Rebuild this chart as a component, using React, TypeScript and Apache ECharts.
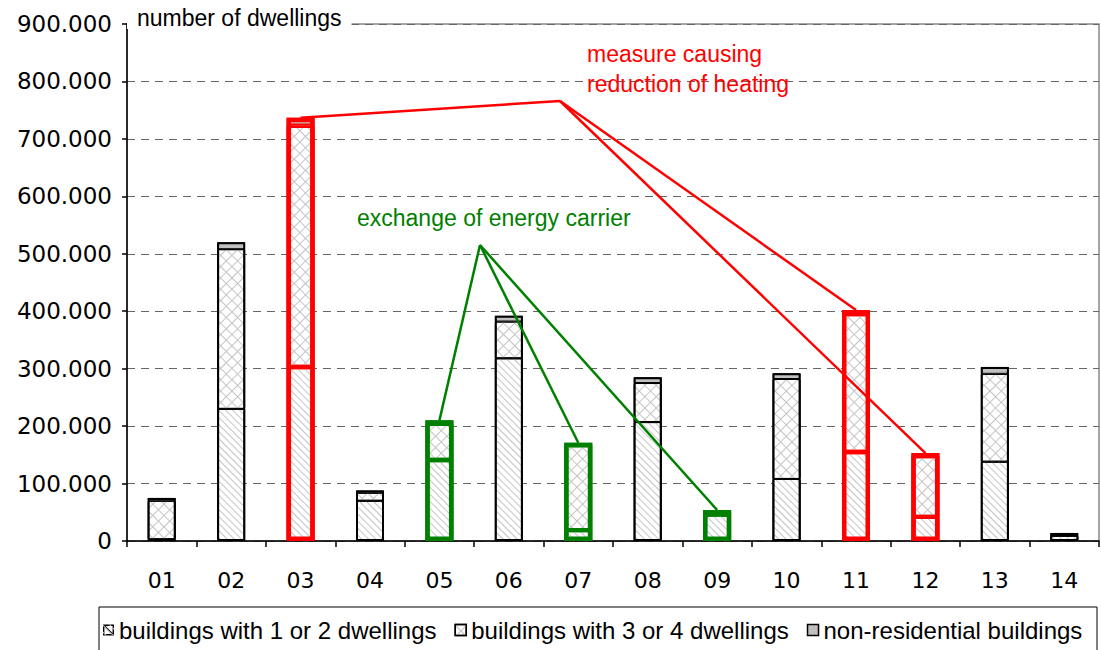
import React, { useEffect, useRef } from 'react';
import * as echarts from 'echarts';

// ---- data ----
const categories = ['01', '02', '03', '04', '05', '06', '07', '08', '09', '10', '11', '12', '13', '14'];
const oneOrTwo = [3000, 230000, 303000, 70000, 141000, 318000, 19000, 207000, 46000, 108000, 155000, 42000, 138000, 9000];
const threeOrFour = [67000, 278000, 420000, 14000, 63000, 64000, 148000, 68000, 4000, 174000, 240000, 106000, 153000, 2000];
const nonResidential = [5000, 12000, 14000, 4000, 6000, 10000, 4000, 10000, 4000, 10000, 7000, 5000, 12000, 3000];
const seriesNames = ['buildings with 1 or 2 dwellings', 'buildings with 3 or 4 dwellings', 'non-residential buildings'];
const redCats = ['03', '11', '12'];
const greenCats = ['05', '07', '09'];
const redLabel = 'measure causing\nreduction of heating';
const greenLabel = 'exchange of energy carrier';
const titleText = 'number of dwellings';

const RED = '#ff0000';
const GREEN = '#008000';
const HATCH = '#c4c4c4';

const diagDecal = {
  symbol: 'rect',
  symbolSize: 1,
  dashArrayX: [1, 0],
  dashArrayY: [1, 4],
  rotation: Math.PI / 4,
  color: HATCH,
};
const crossDecal = {
  symbol: 'rect',
  symbolSize: 1,
  dashArrayX: [[8, 0], [1, 7]],
  dashArrayY: [1, 0, 7, 0],
  rotation: Math.PI / 4,
  color: HATCH,
};

const hatchIcon =
  'path://M0 0H11V11H0Z M1.4 1.4V9.6H9.6V1.4Z M1.4 1.4L2.6 1.4L9.6 8.4L9.6 9.6L8.4 9.6L1.4 2.6Z';

function highlightColor(c: string) {
  return redCats.includes(c) ? RED : greenCats.includes(c) ? GREEN : null;
}

function withHighlights(values: number[], w: number) {
  return values.map((v, i) => {
    const hl = highlightColor(categories[i]);
    return hl ? { value: v, itemStyle: { borderColor: hl, borderWidth: w } } : v;
  });
}

const totals = categories.map((_, i) => oneOrTwo[i] + threeOrFour[i] + nonResidential[i]);

export default function App() {
  const ref = useRef<HTMLDivElement>(null);
  useEffect(() => {
    if (!ref.current) return;
    const chart = echarts.init(ref.current, undefined, { renderer: 'svg' });
    const axisFont = 'DejaVu Sans';
    const textFont = 'Liberation Sans';
    const segBorder = 1;
    const hlSegBorder = 2.2;
    chart.setOption({
      animation: false,
      backgroundColor: '#fff',
      grid: { left: 127, right: 2, top: 24, bottom: 109, show: true, borderColor: '#888', borderWidth: 1.5, backgroundColor: 'transparent' },
      legend: {
        left: 103,
        top: 618,
        padding: 0,
        itemWidth: 11,
        itemHeight: 11,
        itemGap: 18,
        data: [
          { name: seriesNames[0], icon: hatchIcon, itemStyle: { color: '#000', borderWidth: 0 } },
          { name: seriesNames[1], icon: 'rect' },
          { name: seriesNames[2], icon: 'rect' },
        ],
        itemStyle: { borderColor: '#000', borderWidth: 1.5 },
        textStyle: { fontSize: 24, fontFamily: textFont, color: '#000' },
      },
      xAxis: {
        type: 'category',
        data: categories,
        axisLine: { lineStyle: { color: '#000', width: 1.5 } },
        axisTick: { show: true, length: 6, lineStyle: { color: '#000', width: 1.5 } },
        axisLabel: { color: '#000', fontSize: 22, fontFamily: axisFont, margin: 28 },
        splitLine: { show: false },
      },
      yAxis: {
        type: 'value',
        min: 0,
        max: 900000,
        interval: 100000,
        axisLine: { show: true, lineStyle: { color: '#000', width: 1.5 } },
        axisTick: { show: true, length: 5, lineStyle: { color: '#000', width: 1.5 } },
        axisLabel: {
          color: '#000',
          fontSize: 23,
          fontFamily: axisFont,
          margin: 15,
          formatter: (v: number) => (v === 0 ? '0' : `${Math.round(v / 1000)}.000`),
        },
        splitLine: { show: true, lineStyle: { color: '#666', type: [8, 6], width: 1 } },
      },
      series: [
        {
          name: seriesNames[0], type: 'bar', stack: 'total', barWidth: 28,
          itemStyle: { color: '#fff', borderColor: '#000', borderWidth: segBorder, decal: diagDecal },
          data: withHighlights(oneOrTwo, hlSegBorder),
        },
        {
          name: seriesNames[1], type: 'bar', stack: 'total', barWidth: 28,
          itemStyle: { color: '#fff', borderColor: '#000', borderWidth: segBorder, decal: crossDecal },
          data: withHighlights(threeOrFour, hlSegBorder),
        },
        {
          name: seriesNames[2], type: 'bar', stack: 'total', barWidth: 28,
          itemStyle: { color: '#c0c0c0', borderColor: '#000', borderWidth: segBorder },
          data: withHighlights(nonResidential, hlSegBorder),
        },
        {
          name: 'outline', type: 'bar', barWidth: 28, barGap: '-100%', silent: true,
          itemStyle: { color: 'rgba(0,0,0,0)', borderColor: '#000', borderWidth: 2 },
          data: totals.map((v, i) => {
            const hl = highlightColor(categories[i]);
            return hl ? { value: v, itemStyle: { borderColor: hl, borderWidth: 4.5 } } : v;
          }),
        },
      ],
    });

    const topOf = (c: string) => {
      const i = categories.indexOf(c);
      return chart.convertToPixel({ xAxisIndex: 0, yAxisIndex: 0 }, [i, totals[i]]) as number[];
    };
    const redApex = [560, 101];
    const greenApex = [480, 245];
    const lines: any[] = [];
    redCats.forEach((c) => {
      const p = topOf(c);
      lines.push({ type: 'line', z: 100, shape: { x1: redApex[0], y1: redApex[1], x2: p[0], y2: p[1] }, style: { stroke: RED, lineWidth: 2.5 } });
    });
    greenCats.forEach((c) => {
      const p = topOf(c);
      lines.push({ type: 'line', z: 100, shape: { x1: greenApex[0], y1: greenApex[1], x2: p[0], y2: p[1] }, style: { stroke: GREEN, lineWidth: 2.5 } });
    });

    chart.setOption({
      graphic: [
        ...lines,
        {
          type: 'rect', z: 0, shape: { x: 99, y: 607, width: 998, height: 50 },
          style: { fill: 'none', stroke: '#000', lineWidth: 1 },
        },
        {
          type: 'text', z: 100, x: 127, y: 6,
          style: { text: titleText, fontSize: 23, fontFamily: textFont, fill: '#000', backgroundColor: '#fff', padding: [0, 10, 0, 10] },
        },
        {
          type: 'text', z: 100, x: 587, y: 39,
          style: { text: redLabel, fontSize: 23, lineHeight: 30, fontFamily: textFont, fill: RED },
        },
        {
          type: 'text', z: 100, x: 357, y: 204,
          style: { text: greenLabel, fontSize: 23, lineHeight: 28, fontFamily: textFont, fill: GREEN },
        },
      ],
    });
    return () => chart.dispose();
  }, []);
  return <div ref={ref} style={{ position: 'absolute', left: 0, top: 0, width: 1101, height: 650 }} />;
}
